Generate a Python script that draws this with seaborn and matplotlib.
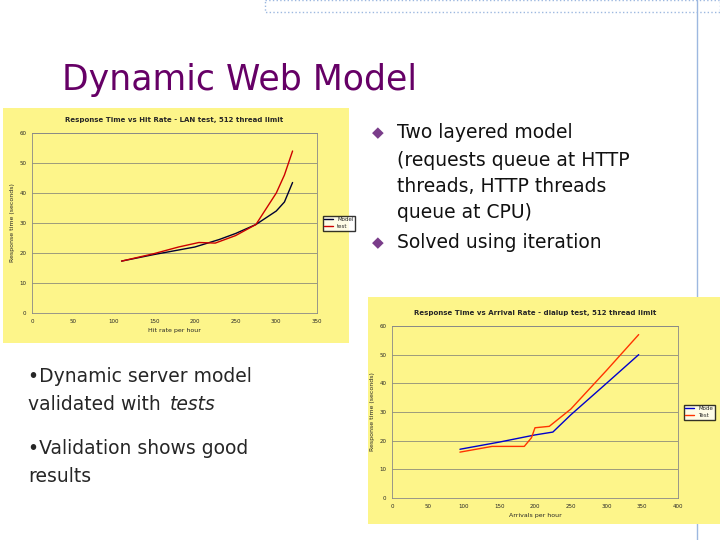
import matplotlib
matplotlib.use("Agg")
import matplotlib.pyplot as plt
import seaborn as sns
import pandas as pd

sns.set_theme(style="white")
plt.rcParams['font.family'] = ['DejaVu Sans']

# Chart 1 data
c1_model_x = [110, 150, 200, 230, 250, 275, 300, 310, 320]
c1_model_y = [17.3, 19.5, 22, 24.5, 26.5, 29.5, 34, 37, 43.5]
c1_test_x = [110, 150, 180, 205, 225, 250, 275, 300, 310, 320]
c1_test_y = [17.3, 19.8, 22, 23.5, 23.3, 25.8, 29.5, 40, 46, 54]
# Chart 2 data
c2_model_x = [95, 150, 200, 225, 250, 300, 345]
c2_model_y = [17, 19.5, 22, 23, 29, 40, 50]
c2_test_x = [95, 140, 185, 195, 200, 220, 250, 300, 345]
c2_test_y = [16, 18, 18, 21, 24.5, 25, 31, 44.5, 57]

W, H = 720, 540
fig = plt.figure(figsize=(7.2, 5.4), dpi=100)
fig.patch.set_facecolor("white")

def box(x0, y0, x1, y1):
    return [x0 / W, 1 - y1 / H, (x1 - x0) / W, (y1 - y0) / H]

# decorative
deco = fig.add_axes([0, 0, 1, 1]); deco.set_xlim(0, W); deco.set_ylim(H, 0); deco.axis("off")
deco.plot([265, 720, 720, 265, 265], [0, 0, 12, 12, 0], color="#9db8e0", lw=1, ls=":")
deco.plot([697, 697], [0, 540], color="#9db8e0", lw=1)
deco.text(62, 80, "Dynamic Web Model", fontsize=25, color="#660066", va="center")
bul = [(133, "Two layered model"), (160, "(requests queue at HTTP"), (186, "threads, HTTP threads"),
       (212, "queue at CPU)"), (243, "Solved using iteration")]
for y, t in bul:
    deco.text(397, y, t, fontsize=13.5, color="#111111", va="center")
for y in (133, 243):
    deco.text(372, y, "\u25c6", fontsize=11, color="#7a3d8a", va="center")
deco.text(28, 377, "•Dynamic server model", fontsize=13.5, va="center")
deco.text(28, 405, "validated with ", fontsize=13.5, va="center")
deco.text(170, 405, "tests", fontsize=13.5, va="center", style="italic")
deco.text(28, 449, "•Validation shows good", fontsize=13.5, va="center")
deco.text(28, 477, "results", fontsize=13.5, va="center")

def chart(panel, plot, title, xs, ys, names, colors, xmax, xlab, ylab, legpos):
    bg = fig.add_axes(box(*panel)); bg.set_facecolor("#fdf58a"); bg.set_xticks([]); bg.set_yticks([])
    for s in bg.spines.values(): s.set_visible(False)
    ax = fig.add_axes(box(*plot)); ax.set_facecolor("#fdf58a")
    rows = []
    for n, x, y in zip(names, xs, ys):
        rows += [dict(x=a, y=b, s=n) for a, b in zip(x, y)]
    df = pd.DataFrame(rows)
    sns.lineplot(data=df, x="x", y="y", hue="s", palette=dict(zip(names, colors)), ax=ax, lw=1, sort=False)
    ax.set_xlim(0, xmax); ax.set_ylim(0, 60)
    ax.set_xticks(range(0, xmax + 1, 50)); ax.set_yticks(range(0, 61, 10))
    ax.tick_params(labelsize=4, length=2, pad=2)
    ax.grid(axis="y", color="#777777", lw=0.5)
    for s in ax.spines.values(): s.set_color("#888888"); s.set_linewidth(0.6)
    ax.set_xlabel(xlab, fontsize=4.5, labelpad=3); ax.set_ylabel(ylab, fontsize=4.5, labelpad=3)
    ax.set_title(title, fontsize=5, fontweight="bold", pad=8)
    ax.legend(loc="center left", bbox_to_anchor=legpos, fontsize=4, frameon=True, fancybox=False,
              edgecolor="black", handlelength=1.5, borderpad=0.3, labelspacing=0.3)

chart((3, 108, 349, 343), (32, 133, 317, 313), "Response Time vs Hit Rate - LAN test, 512 thread limit",
      [c1_model_x, c1_test_x], [c1_model_y, c1_test_y], ["Model", "test"], ["#000033", "#cc0000"],
      350, "Hit rate per hour", "Response time (seconds)", (1.01, 0.5))
chart((368, 297, 720, 524), (392, 326, 678, 498), "Response Time vs Arrival Rate - dialup test, 512 thread limit",
      [c2_model_x, c2_test_x], [c2_model_y, c2_test_y], ["Mode", "Test"], ["#0000cc", "#ff3300"],
      400, "Arrivals per hour", "Response time (seconds)", (1.01, 0.5))

fig.savefig("out.png", dpi=100)
